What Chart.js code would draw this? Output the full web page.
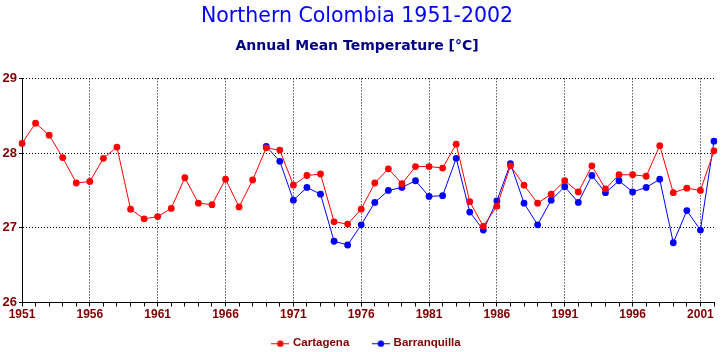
<!DOCTYPE html>
<html>
<head>
<meta charset="utf-8">
<script src="https://cdn.jsdelivr.net/npm/chart.js@4"></script>
<style>
  html, body { margin: 0; padding: 0; background: #fff; }
  #wrap { width: 721px; height: 352px; }
</style>
</head>
<body>
<div id="wrap"><canvas id="tempChart" width="721" height="352"></canvas></div>
<script>
// years 1951..2002
const years = [];
for (let y = 1951; y <= 2002; y++) years.push(String(y));

const cartagena = [
  28.13, 28.40, 28.24, 27.94, 27.60, 27.62, 27.93, 28.08, 27.25, 27.12,
  27.15, 27.26, 27.67, 27.33, 27.31, 27.65, 27.28, 27.64, 28.07, 28.04,
  27.57, 27.70, 27.72, 27.08, 27.05, 27.25, 27.60, 27.79, 27.59, 27.82,
  27.82, 27.80, 28.12, 27.35, 27.02, 27.29, 27.83, 27.57, 27.33, 27.45,
  27.63, 27.48, 27.83, 27.52, 27.71, 27.71, 27.69, 28.10, 27.47, 27.53,
  27.50, 28.03
];

const barranquilla = [
  null, null, null, null, null, null, null, null, null, null,
  null, null, null, null, null, null, null, null, 28.09, 27.89,
  27.37, 27.54, 27.45, 26.82, 26.77, 27.04, 27.34, 27.50, 27.54, 27.63,
  27.42, 27.43, 27.93, 27.21, 26.97, 27.36, 27.86, 27.33, 27.04, 27.37,
  27.55, 27.34, 27.70, 27.47, 27.63, 27.48, 27.54, 27.65, 26.80, 27.23,
  26.97, 28.16
];

const yTicks = [26, 27, 28, 29];

// little legend icon: short line with a dot in the middle
function legendIcon(color) {
  const c = document.createElement('canvas');
  c.width = 18; c.height = 8;
  const g = c.getContext('2d');
  g.fillStyle = color;
  g.fillRect(0, 4, 18, 1);
  g.beginPath(); g.arc(9, 4.5, 3.2, 0, Math.PI * 2); g.fill();
  return c;
}

const darkRed = '#800000';

// nudge the legend a bit to the right, like the original
const legendShift = {
  id: 'legendShift',
  afterLayout(chart) {
    chart.legend.left += 10;
    chart.legend.right += 10;
  }
};

const config = {
  type: 'line',
  data: {
    labels: years,
    datasets: [{
      label: 'Cartagena',
      data: cartagena,
      borderColor: '#ff0000',
      backgroundColor: '#ff0000',
      borderWidth: 1,
      pointRadius: 3.4,
      pointHoverRadius: 3.4,
      pointBorderWidth: 0,
      tension: 0
    }, {
      label: 'Barranquilla',
      data: barranquilla,
      borderColor: '#0000ff',
      backgroundColor: '#0000ff',
      borderWidth: 1,
      pointRadius: 3.4,
      pointHoverRadius: 3.4,
      pointBorderWidth: 0,
      tension: 0,
      spanGaps: false
    }]
  },
  options: {
    responsive: false,
    animation: false,
    layout: { padding: { left: 0, right: 7, top: 0, bottom: -7 } },
    plugins: {
      title: {
        display: true,
        text: 'Northern Colombia 1951-2002',
        color: '#0000ff',
        font: { family: 'DejaVu Sans', size: 20.5, weight: 'normal', lineHeight: 1.2 },
        padding: { top: 4, bottom: 4 }
      },
      subtitle: {
        display: true,
        text: 'Annual Mean Temperature [°C]',
        color: '#000080',
        font: { family: 'DejaVu Sans', size: 14, weight: 'bold', lineHeight: 1.2 },
        padding: { top: 5, bottom: 24 }
      },
      legend: {
        position: 'bottom',
        labels: {
          color: darkRed,
          font: { family: 'Liberation Sans', size: 11.5, weight: 'bold' },
          usePointStyle: true,
          pointStyleWidth: 14,
          padding: 15,
          generateLabels(chart) {
            return chart.data.datasets.map((ds, i) => ({
              // trailing spaces widen the gap between the two entries
              text: i === 0 ? ds.label + '   ' : ds.label,
              fontColor: darkRed,
              pointStyle: legendIcon(ds.borderColor),
              datasetIndex: i,
              hidden: false,
              lineWidth: 0
            }));
          }
        }
      },
      tooltip: { enabled: false }
    },
    scales: {
      x: {
        type: 'category',
        offset: false,
        afterFit(scale) { scale.height = 20; },
        grid: {
          offset: false,
          color: ctx => (ctx.index % 5 === 0 ? '#000' : 'rgba(0,0,0,0)'),
          tickColor: '#000',
          tickLength: 4,
          lineWidth: 1
        },
        border: { display: true, color: '#000', width: 1, dash: [1, 2] },
        ticks: {
          autoSkip: false,
          maxRotation: 0,
          padding: 1,
          color: darkRed,
          font: { family: 'Liberation Sans', size: 12, weight: 'bold' },
          callback(val, idx) { return idx % 5 === 0 ? years[idx] : ''; }
        }
      },
      y: {
        min: yTicks[0],
        max: yTicks[yTicks.length - 1],
        afterBuildTicks(scale) { scale.ticks = yTicks.map(v => ({ value: v })); },
        afterFit(scale) { scale.width = 22; },
        grid: { color: '#000', tickColor: '#000', tickLength: 3, lineWidth: 1 },
        border: { display: true, color: '#000', width: 1, dash: [1, 2] },
        ticks: {
          padding: 2,
          color: darkRed,
          font: { family: 'Liberation Sans', size: 13, weight: 'bold' }
        }
      }
    }
  },
  plugins: [legendShift]
};

const myChart = new Chart(document.getElementById('tempChart'), config);
</script>
</body>
</html>
